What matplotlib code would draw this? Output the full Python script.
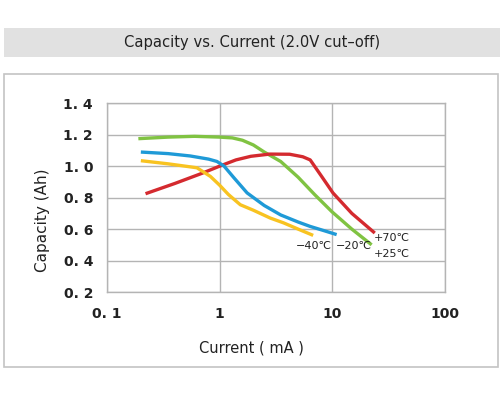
import numpy as np
import matplotlib.pyplot as plt
from matplotlib.patches import Rectangle

# ---- data (current mA, capacity Ah) ----
cur_25 = [0.19, 0.35, 0.6, 1.0, 1.3, 1.6, 2.0, 2.5, 3.5, 5.0, 7.0, 10.0, 15.0, 22.5]
cap_25 = [1.175, 1.185, 1.19, 1.185, 1.18, 1.165, 1.135, 1.09, 1.03, 0.93, 0.82, 0.71, 0.6, 0.5]

cur_70 = [0.22, 0.4, 0.7, 1.0, 1.4, 1.9, 2.8, 4.2, 5.5, 6.4, 8.0, 10.2, 15.0, 24.0]
cap_70 = [0.825, 0.89, 0.955, 1.0, 1.04, 1.063, 1.077, 1.076, 1.06, 1.04, 0.94, 0.83, 0.7, 0.575]

cur_m20 = [0.2, 0.35, 0.55, 0.8, 0.95, 1.1, 1.33, 1.76, 2.5, 3.5, 5.0, 6.4, 8.5, 11.0]
cap_m20 = [1.09, 1.08, 1.065, 1.045, 1.03, 1.0, 0.93, 0.83, 0.75, 0.69, 0.645, 0.617, 0.59, 0.565]

cur_m40 = [0.2, 0.35, 0.63, 0.83, 1.0, 1.2, 1.53, 2.0, 2.83, 3.7, 5.0, 6.8]
cap_m40 = [1.035, 1.015, 0.99, 0.935, 0.88, 0.82, 0.755, 0.72, 0.67, 0.64, 0.6, 0.56]

GREEN = "#80c342"
RED = "#d42a2f"
BLUE = "#1f9ad7"
YELLOW = "#f8c321"
GRID = "#b4b4b4"
INK = "#222222"

fig = plt.figure(figsize=(5, 4), dpi=100)
fig.patch.set_facecolor("white")

# title band and outer frame (figure pixel coords)
def px(x0, y0, w, h):
    return (x0 / 500, 1 - (y0 + h) / 400), w / 500, h / 400

xy, w, h = px(4, 28, 496, 29)
fig.patches.append(Rectangle(xy, w, h, transform=fig.transFigure, fc="#e1e1e1", ec="none"))
fig.text(252 / 500, 1 - 43 / 400, "Capacity vs. Current (2.0V cut\u2013off)",
         ha="center", va="center", fontsize=10.6, color=INK, family="DejaVu Sans")
xy, w, h = px(4, 74, 494, 293)
fig.patches.append(Rectangle(xy, w, h, transform=fig.transFigure, fc="none", ec="#c4c4c4", lw=1.2))

ax = fig.add_axes([107 / 500, 1 - 292 / 400, (444.5 - 107) / 500, (292 - 103.3) / 400])
ax.set_xscale("log")
ax.set_xlim(0.1, 100)
ax.set_ylim(0.2, 1.4)

ax.plot(cur_25, cap_25, color=GREEN, lw=2.4, solid_capstyle="butt")
ax.plot(cur_70, cap_70, color=RED, lw=2.4, solid_capstyle="butt")
ax.plot(cur_m20, cap_m20, color=BLUE, lw=2.4, solid_capstyle="butt")
ax.plot(cur_m40, cap_m40, color=YELLOW, lw=2.4, solid_capstyle="butt")

ax.set_xticks([0.1, 1, 10, 100])
ax.set_xticklabels(["0. 1", "1", "10", "100"])
ax.set_yticks([0.2, 0.4, 0.6, 0.8, 1.0, 1.2, 1.4])
ax.set_yticklabels(["0. 2", "0. 4", "0. 6", "0. 8", "1. 0", "1. 2", "1. 4"])
ax.minorticks_off()
ax.tick_params(length=0, labelsize=10, colors=INK, pad=10)
ax.tick_params(axis="x", pad=11)
for t in ax.get_xticklabels() + ax.get_yticklabels():
    t.set_fontweight("bold")
ax.grid(True, color=GRID, lw=1)
for s in ax.spines.values():
    s.set_color(GRID)
    s.set_linewidth(1)

# curve labels
fs = 8
ax.text(4.8, 0.49, "\u221240\u2103", fontsize=fs, color=INK, va="center", ha="left")
ax.text(10.8, 0.49, "\u221220\u2103", fontsize=fs, color=INK, va="center", ha="left")
ax.text(23.5, 0.545, "+70\u2103", fontsize=fs, color=INK, va="center", ha="left")
ax.text(23.5, 0.443, "+25\u2103", fontsize=fs, color=INK, va="center", ha="left")

fig.text(42 / 500, 1 - 220 / 400, "Capacity (Ah)", rotation=90, ha="center", va="center",
         fontsize=11, color=INK)
fig.text(251 / 500, 1 - 348 / 400, "Current ( mA )", ha="center", va="center",
         fontsize=10.5, color=INK)

fig.savefig("out.png", dpi=100)
